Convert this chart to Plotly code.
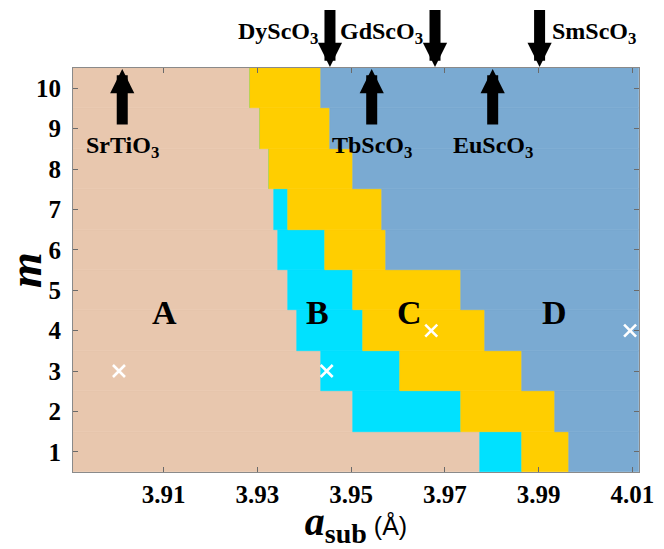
import plotly.graph_objects as go

# ---------------- data ----------------
m_values = [1, 2, 3, 4, 5, 6, 7, 8, 9, 10]
# phase boundaries (lattice parameter of substrate, Å) for each m
a_to_b = [3.9775, 3.9505, 3.9435, 3.9385, 3.9365, 3.9345, 3.9335, 3.9325, 3.9305, 3.9285]
b_to_c = [3.9865, 3.9735, 3.9605, 3.9525, 3.9505, 3.9445, 3.9365, 3.9325, 3.9305, 3.9285]
c_to_d = [3.9965, 3.9935, 3.9865, 3.9785, 3.9735, 3.9575, 3.9565, 3.9505, 3.9455, 3.9435]

x_min, x_max = 3.8907, 4.0114
x_ticks = [3.91, 3.93, 3.95, 3.97, 3.99, 4.01]
x_tick_text = ["3.91", "3.93", "3.95", "3.97", "3.99", "4.01"]

phase_names = ["A", "B", "C", "D"]
phase_colors = ["#E8C7AE", "#00E1FF", "#FFCE00", "#7AAAD2"]
phase_label_x = [3.9103, 3.9429, 3.9624, 3.9933]
phase_label_m = [4.45, 4.45, 4.45, 4.45]

# substrates marked below the top axis (up arrows) and above it (down arrows)
sub_up_names = ["SrTiO<sub>3</sub>", "TbScO<sub>3</sub>", "EuScO<sub>3</sub>"]
sub_up_a = [3.9012, 3.9544, 3.9802]
sub_down_names = ["DyScO<sub>3</sub>", "GdScO<sub>3</sub>", "SmScO<sub>3</sub>"]
sub_down_a = [3.9455, 3.9679, 3.9902]
sub_down_side = ["left", "left", "right"]

# white crosses
cross_a = [3.9005, 3.9448, 3.9671, 4.0095]
cross_m = [3, 3, 4, 4]

# ---------------- figure ----------------
SERIF = "Liberation Serif"
starts = [[x_min] * len(m_values), a_to_b, b_to_c, c_to_d]
ends = [a_to_b, b_to_c, c_to_d, [x_max] * len(m_values)]

fig = go.Figure()
for name, col, s, e in zip(phase_names, phase_colors, starts, ends):
    fig.add_trace(go.Bar(
        y=m_values, x=[ee - ss for ss, ee in zip(s, e)], base=s,
        orientation="h", width=1, name=name,
        marker=dict(color=col, line=dict(color=col, width=0.6)),
        hoverinfo="skip", showlegend=False,
    ))

fig.add_trace(go.Scatter(
    x=cross_a, y=cross_m, mode="markers", showlegend=False, hoverinfo="skip",
    marker=dict(symbol="x-thin", size=12, line=dict(color="white", width=2.6)),
))

label_font = dict(family=SERIF, size=24, color="black", weight="bold")
annotations = []
for nm, xx, yy in zip(phase_names, phase_label_x, phase_label_m):
    annotations.append(dict(x=xx, y=yy, xref="x", yref="y", text=nm, showarrow=False,
                            font=dict(family=SERIF, size=34, color="black", weight="bold")))

arrow_style = dict(showarrow=True, arrowhead=2, arrowwidth=11, arrowsize=0.44,
                   arrowcolor="black", xref="x", yref="paper")
# up arrows with their label at the tail
for nm, xx in zip(sub_up_names, sub_up_a):
    annotations.append(dict(x=xx, y=1, yshift=-1, ax=0, ay=78, text=nm, font=label_font,
                            borderpad=0, startstandoff=7, **arrow_style))
# down arrows above the frame, label beside
for nm, xx, side in zip(sub_down_names, sub_down_a, sub_down_side):
    annotations.append(dict(x=xx, y=1, yshift=1, ax=0, ay=-58, text=" ",
                            font=dict(size=1), borderpad=0, **arrow_style))
    annotations.append(dict(x=xx, y=1, yshift=35, xshift=-10 if side == "left" else 10,
                            text=nm, showarrow=False, xref="x", yref="paper",
                            xanchor="right" if side == "left" else "left", yanchor="middle",
                            font=label_font))

axis_common = dict(showline=True, linecolor="#8a8a8a", linewidth=1, mirror="ticks",
                   ticks="inside", ticklen=5, tickcolor="#6a6a6a", tickwidth=1,
                   showgrid=False, zeroline=False, automargin=False,
                   tickfont=dict(family=SERIF, size=25, color="black", weight="bold"))

fig.update_layout(
    width=664, height=549,
    margin=dict(l=73, r=25, t=68, b=77, autoexpand=False),
    paper_bgcolor="white", plot_bgcolor="white",
    barmode="overlay", bargap=0,
    annotations=annotations,
    xaxis=dict(range=[x_min, x_max], tickvals=x_ticks, ticktext=x_tick_text,
               ticklabelstandoff=0,
               title=dict(text="<b><i>a</i><sub>sub</sub></b><span style='font-family:Liberation Sans;font-size:25px'> (Å)</span>",
                          font=dict(family=SERIF, size=40, color="black"), standoff=0),
               **axis_common),
    yaxis=dict(range=[0.5, 10.5], tickvals=m_values, ticklabelstandoff=6,
               title=dict(text="<b><i>m</i></b>", font=dict(family=SERIF, size=46, color="black"),
                          standoff=4),
               **axis_common),
)

fig.write_html("out.html", config={"displayModeBar": False},
               post_script="document.body.style.margin='0px';")
